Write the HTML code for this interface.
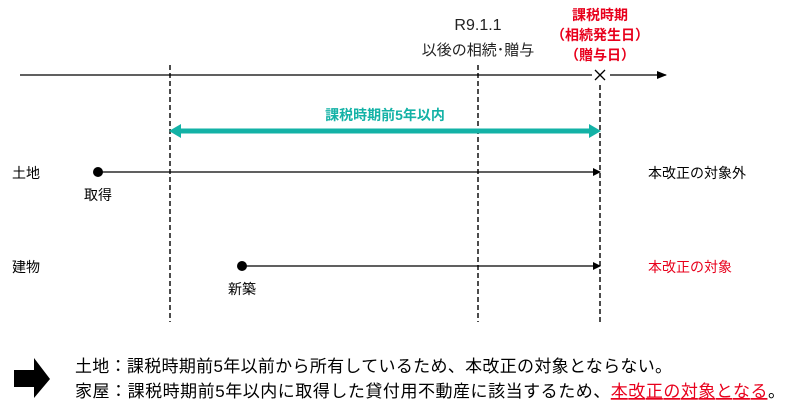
<!DOCTYPE html>
<html><head><meta charset="utf-8"><style>
body{margin:0;background:#fff;width:800px;height:413px;overflow:hidden}
svg text{font-family:"Liberation Sans","Noto Sans CJK JP",sans-serif}
</style></head><body>
<svg width="800" height="413" viewBox="0 0 800 413" xmlns="http://www.w3.org/2000/svg">
<defs>
<marker id="a" markerWidth="10" markerHeight="8" refX="9" refY="4" orient="auto" markerUnits="userSpaceOnUse"><path d="M0,0L10,4L0,8z" fill="#000"/></marker>
<marker id="s" markerWidth="8" markerHeight="8" refX="7" refY="4" orient="auto" markerUnits="userSpaceOnUse"><path d="M0,0L8,4L0,8z" fill="#000"/></marker>
</defs>
<line x1="20" y1="75" x2="592" y2="75" stroke="#000" stroke-width="1.3"/>
<line x1="610" y1="75" x2="666" y2="75" stroke="#000" stroke-width="1.3" marker-end="url(#a)"/>
<path d="M595,70L605,80M605,70L595,80" stroke="#000" stroke-width="1.3"/>
<g stroke="#000" stroke-width="1.4" stroke-dasharray="5,3">
<line x1="170" y1="65" x2="170" y2="322"/>
<line x1="478" y1="65" x2="478" y2="322"/>
<line x1="600" y1="85" x2="600" y2="322"/>
</g>
<text x="478" y="30" font-size="16" text-anchor="middle" fill="#222">R9.1.1</text>
<text x="478" y="55" font-size="15" text-anchor="middle" fill="#222">以後の相続･贈与</text>
<g fill="#e8001c" font-size="14" font-weight="bold" text-anchor="middle">
<text x="600" y="20">課税時期</text>
<text x="600" y="40">（相続発生日）</text>
<text x="600" y="60">（贈与日）</text>
</g>
<line x1="178" y1="131" x2="592" y2="131" stroke="#13b2a6" stroke-width="5"/>
<path d="M169,131L181,124L181,138z" fill="#13b2a6"/>
<path d="M601,131L589,124L589,138z" fill="#13b2a6"/>
<text x="385" y="120" font-size="14" font-weight="bold" fill="#13b2a6" text-anchor="middle">課税時期前5年以内</text>
<text x="12" y="178" font-size="14" fill="#000">土地</text>
<circle cx="98" cy="172" r="5" fill="#000"/>
<line x1="98" y1="172" x2="600" y2="172" stroke="#000" stroke-width="1.3" marker-end="url(#s)"/>
<text x="98" y="200" font-size="14" text-anchor="middle">取得</text>
<text x="648" y="178" font-size="14">本改正の対象外</text>
<text x="12" y="272" font-size="14" fill="#000">建物</text>
<circle cx="242" cy="266" r="5" fill="#000"/>
<line x1="242" y1="266" x2="600" y2="266" stroke="#000" stroke-width="1.3" marker-end="url(#s)"/>
<text x="242" y="294" font-size="14" text-anchor="middle">新築</text>
<text x="648" y="272" font-size="14" fill="#e8001c">本改正の対象</text>
<path d="M14,370L34,370L34,358L50,379L34,398L34,387L14,387z" fill="#000"/>
<text x="75" y="372" font-size="17" fill="#000" textLength="597" lengthAdjust="spacing">土地：課税時期前5年以前から所有しているため、本改正の対象とならない。</text>
<text x="75" y="397" font-size="17" fill="#000" textLength="710" lengthAdjust="spacing">家屋：課税時期前5年以内に取得した貸付用不動産に該当するため、<tspan fill="#e8001c" text-decoration="underline">本改正の対象となる</tspan>。</text>
</svg>
</body></html>
